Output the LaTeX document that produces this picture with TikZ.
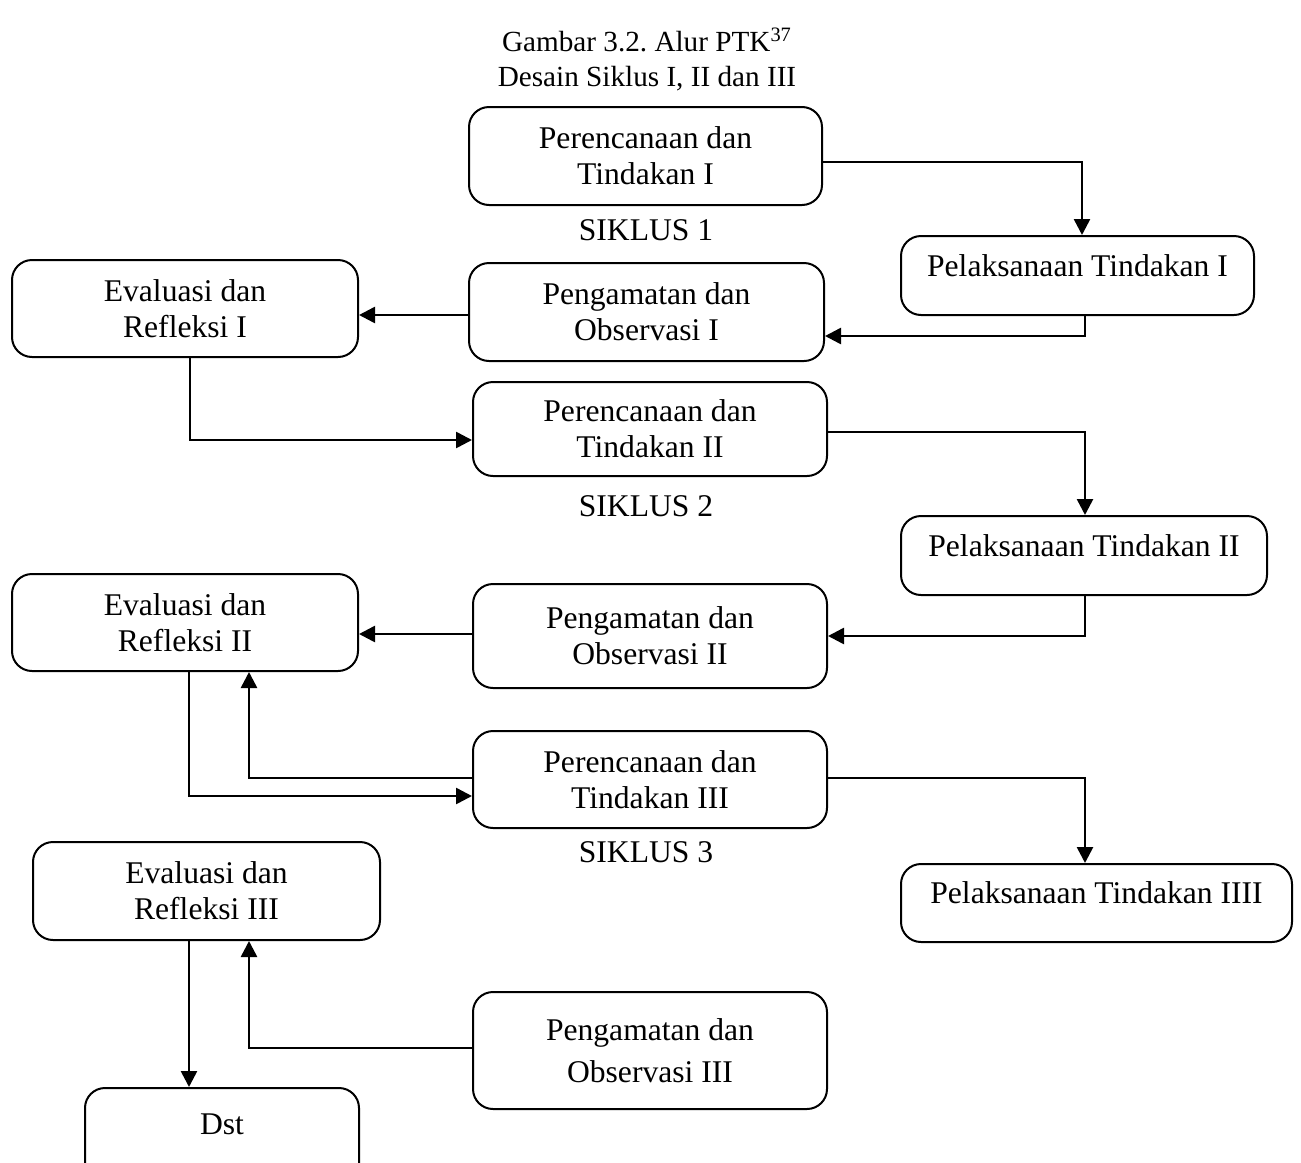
\documentclass[tikz,border=0pt]{standalone}
\usepackage{fontspec}
\setmainfont{Liberation Serif}
\frenchspacing
\usetikzlibrary{arrows.meta,calc}
\begin{document}
\begin{tikzpicture}[x=0.5pt,y=-0.5pt,
  box/.style={draw,line width=1pt,rounded corners=10pt,align=center,inner sep=0pt,
    font=\fontsize{15.8}{18}\selectfont},
  one/.style={text depth=10pt},
  lbl/.style={inner sep=0pt,font=\fontsize{15.8}{18}\selectfont},
  ttl/.style={inner sep=0pt,font=\fontsize{14.6}{17}\selectfont},
  ln/.style={line width=0.8pt},
  arr/.style={line width=1.3pt,-{Triangle[length=8pt,width=8pt]}}]
\clip (0,0) rectangle (1301,1162);
% titles
\node[ttl] (t1) at (647,40) {Gambar 3.2. Alur PTK\textsuperscript{37}};
\node[ttl] (t2) at (647,79) {Desain Siklus I, II dan III};
% cycle 1
\node[box,minimum width=176.5pt,minimum height=49pt] (P1) at (645.5,156) {Perencanaan dan\\Tindakan I};
\node[lbl] (s1) at (646,230) {SIKLUS 1};
\node[box,one,minimum width=176.5pt,minimum height=39.5pt] (Pel1) at (1077.5,275.5) {Pelaksanaan Tindakan I};
\node[box,minimum width=173pt,minimum height=48.5pt] (E1) at (185,308.5) {Evaluasi dan\\Refleksi I};
\node[box,minimum width=177.5pt,minimum height=49pt] (O1) at (646.5,312) {Pengamatan dan\\Observasi I};
% cycle 2
\node[box,minimum width=177pt,minimum height=47pt] (P2) at (650,429) {Perencanaan dan\\Tindakan II};
\node[lbl] (s2) at (646,506) {SIKLUS 2};
\node[box,one,minimum width=183pt,minimum height=39.5pt] (Pel2) at (1084,555.5) {Pelaksanaan Tindakan II};
\node[box,minimum width=173pt,minimum height=48.5pt] (E2) at (185,622.5) {Evaluasi dan\\Refleksi II};
\node[box,minimum width=177pt,minimum height=52pt] (O2) at (650,636) {Pengamatan dan\\Observasi II};
% cycle 3
\node[box,minimum width=177pt,minimum height=48.5pt] (P3) at (650,779.5) {Perencanaan dan\\Tindakan III};
\node[lbl] (s3) at (646,852) {SIKLUS 3};
\node[box,one,minimum width=195.5pt,minimum height=39pt] (Pel3) at (1096.5,903) {Pelaksanaan Tindakan IIII};
\node[box,minimum width=173.5pt,minimum height=49pt] (E3) at (206.5,891) {Evaluasi dan\\Refleksi III};
\node[box,minimum width=177pt,minimum height=58.5pt,font=\fontsize{15.8}{21}\selectfont] (O3) at (650,1050.5) {Pengamatan dan\\Observasi III};
\node[box,minimum width=137pt,minimum height=50pt,text depth=14pt] (D) at (222,1138) {Dst};
% connectors
\draw[arr] ($(P1.east)+(0,6)$) -| ($(Pel1.north)+(4.5,0)$);
\draw[arr] ($(Pel1.south)+(7.5,0)$) |- ($(O1.east)+(0,24)$);
\draw[arr] ($(O1.west)+(0,3)$) -- ($(E1.east)+(0,6.5)$);
\draw[arr] ($(E1.south)+(5,0)$) |- ($(P2.west)+(0,11)$);
\draw[arr] ($(P2.east)+(0,3)$) -| ($(Pel2.north)+(1,0)$);
\draw[arr] ($(Pel2.south)+(1,0)$) |- (O2.east);
\draw[arr] ($(O2.west)+(0,-2)$) -- ($(E2.east)+(0,11.5)$);
\draw[arr] ($(E2.south)+(4,0)$) |- ($(P3.west)+(0,16.5)$);
\draw[arr] ($(P3.west)+(0,-1.5)$) -| ($(E2.south)+(64,0)$);
\draw[arr] ($(P3.east)+(0,-1.5)$) -| ($(Pel3.north)+(-11.5,0)$);
\draw[arr] ($(O3.west)+(0,-2.5)$) -| ($(E3.south)+(42.5,0)$);
\draw[arr] ($(E3.south)+(-17.5,0)$) -- (D.north -| 189,0);
\end{tikzpicture}
\end{document}
